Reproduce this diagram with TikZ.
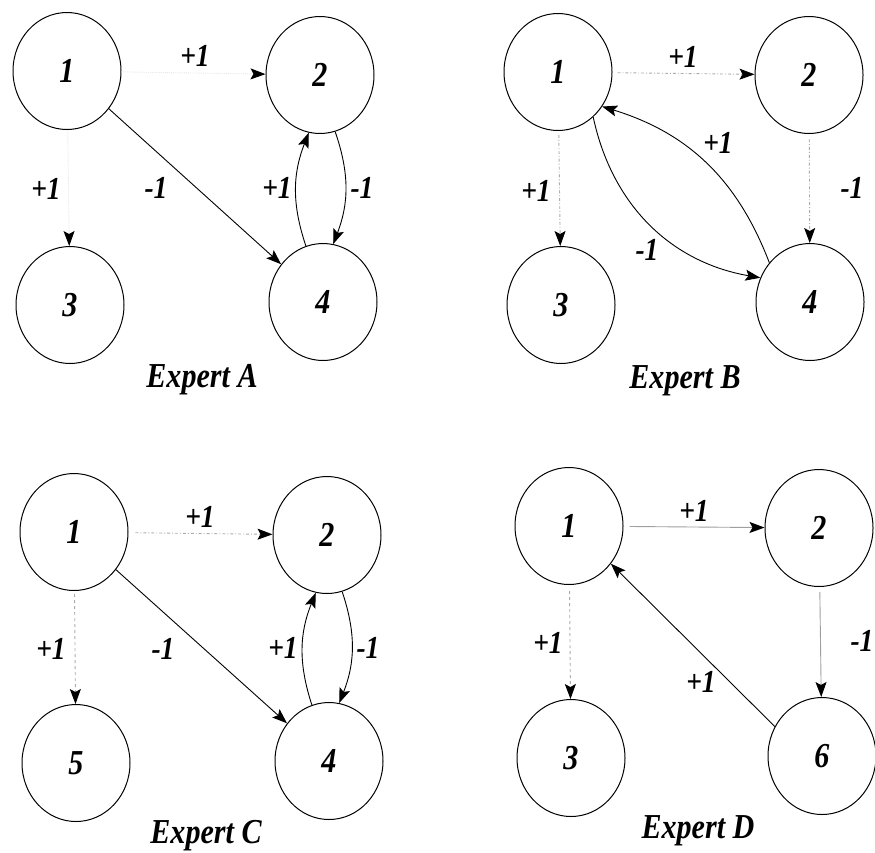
\documentclass[tikz,border=0pt]{standalone}
\usepackage{fontspec}
\setmainfont{Liberation Serif}
\newfontfamily\narrowfont[FakeStretch=0.86]{Liberation Serif}
\usetikzlibrary{arrows.meta,shapes.geometric}
\tikzset{
  nd/.style={ellipse,draw,line width=1pt,minimum width=108pt,minimum height=117pt,inner sep=0pt,
    font=\narrowfont\fontsize{35}{40}\selectfont\bfseries\itshape},
  lbl/.style={inner sep=0pt,font=\narrowfont\fontsize{32}{38}\selectfont\bfseries\itshape},
  ttl/.style={inner sep=0pt,anchor=base,font=\narrowfont\fontsize{35}{40}\selectfont\bfseries\itshape},
  arr/.style={line width=0.9pt,-{Stealth[length=15pt,width=11pt,inset=3pt,color=black]}},
  faintarr/.style={arr,draw=gray!20,densely dotted},
  ddarr/.style={arr,draw=gray!65,dash dot},
  dsarr/.style={arr,draw=gray!65,dashed},
  greyarr/.style={arr,draw=gray!75},
}
\begin{document}
\begin{tikzpicture}[x=1pt,y=-1pt]
\useasboundingbox (0,0) rectangle (875,852);
% Expert A
\node[nd] (A1) at (67,71) {1};
\node[nd] (A2) at (320,75) {2};
\node[nd] (A3) at (70,305) {3};
\node[nd] (A4) at (323,302) {4};
\draw[faintarr] (A1) -- (A2);
\draw[faintarr] (A1) -- (A3);
\draw[arr] (A1) -- (A4);
\draw[arr] (A4.107) to[bend left=20] (A2.259);
\draw[arr] (A2.285) to[bend left=20] (A4.80);
\node[lbl] (la12) at (195,56) {+1};
\node[lbl] (la13) at (46,189) {+1};
\node[lbl] (la14) at (156,188) {-1};
\node[lbl] (la42) at (277,188) {+1};
\node[lbl] (la24) at (362,188) {-1};
\node[ttl] (ta) at (202,387) {Expert A};
% Expert B
\node[nd] (B1) at (558,72) {1};
\node[nd] (B2) at (809,75) {2};
\node[nd] (B3) at (561,305) {3};
\node[nd] (B4) at (810,302) {4};
\draw[ddarr,shorten <=5pt] (B1) -- (B2);
\draw[ddarr,shorten <=4pt] (B1) -- (B3);
\draw[ddarr,shorten <=5pt] (B2) -- (B4);
\draw[arr] (B4.136) to[bend right=26] (B1.322);
\draw[arr] (B1.308) to[bend right=34] (B4.154);
\node[lbl] (lb12) at (683,57) {+1};
\node[lbl] (lb13) at (536,191) {+1};
\node[lbl] (lb24) at (852,188) {-1};
\node[lbl] (lb41) at (718,143) {+1};
\node[lbl] (lb14) at (647,250) {-1};
\node[ttl] (tb) at (685,388) {Expert B};
% Expert C
\node[nd] (C1) at (74,532) {1};
\node[nd] (C2) at (327,535) {2};
\node[nd] (C5) at (76,763) {5};
\node[nd] (C4) at (329,761) {4};
\draw[ddarr,shorten <=7pt] (C1) -- (C2);
\draw[dsarr,shorten <=3pt] (C1) -- (C5);
\draw[arr] (C1) -- (C4);
\draw[arr] (C4.107) to[bend left=20] (C2.259);
\draw[arr] (C2.285) to[bend left=20] (C4.80);
\node[lbl] (lc12) at (200,517) {+1};
\node[lbl] (lc15) at (51,649) {+1};
\node[lbl] (lc14) at (163,649) {-1};
\node[lbl] (lc42) at (283,648) {+1};
\node[lbl] (lc24) at (368,648) {-1};
\node[ttl] (tc) at (206,843) {Expert C};
% Expert D
\node[nd] (D1) at (569,526) {1};
\node[nd] (D2) at (819,528) {2};
\node[nd] (D3) at (571,758) {3};
\node[nd] (D6) at (822,756) {6};
\draw[greyarr,shorten <=6pt] (D1) -- (D2);
\draw[dsarr,shorten <=6pt] (D1) -- (D3);
\draw[greyarr,shorten <=5pt] (D2) -- (D6);
\draw[arr] (D6.148) -- (D1.-42);
\node[lbl] (ld12) at (694,511) {+1};
\node[lbl] (ld13) at (548,643) {+1};
\node[lbl] (ld26) at (862,641) {-1};
\node[lbl] (ld61) at (701,682) {+1};
\node[ttl] (td) at (698,838) {Expert D};
\end{tikzpicture}
\end{document}
